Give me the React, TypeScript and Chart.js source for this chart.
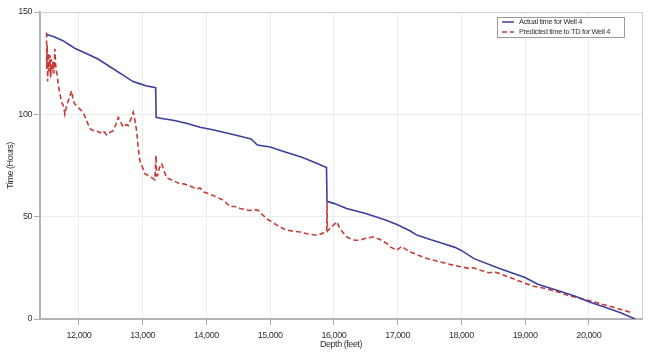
import React, { useEffect, useRef } from 'react';
import { Chart, registerables } from 'chart.js';

Chart.register(...registerables);

const actualDepth = [11493, 11600, 11750, 11850, 11950, 12100, 12300, 12500, 12700, 12850, 12950, 13050, 13205, 13212, 13300, 13500, 13700, 13900, 14100, 14300, 14500, 14700, 14800, 15000, 15200, 15500, 15700, 15885, 15893, 16000, 16200, 16500, 16800, 17000, 17200, 17300, 17500, 17700, 17900, 18000, 18200, 18600, 19000, 19200, 19500, 19800, 20000, 20300, 20500, 20728];
const actualHours = [139, 138, 136, 134, 132, 130, 127, 123, 119, 116, 115, 114, 113, 98.5, 98, 97, 95.5, 93.7, 92.5, 91, 89.5, 88, 85, 84, 82, 79, 76.5, 74, 57.5, 56.5, 54, 51.5, 48.5, 46, 43, 41, 39, 37, 35, 33.5, 29.5, 24.7, 20.3, 17, 14, 11, 8.4, 5.2, 3, 0];

const predictedDepth = [11493, 11497, 11503, 11510, 11520, 11530, 11545, 11555, 11565, 11580, 11597, 11610, 11623, 11635, 11650, 11690, 11728, 11760, 11780, 11800, 11816, 11850, 11885, 11910, 11937, 11970, 12000, 12068, 12120, 12173, 12230, 12278, 12330, 12380, 12435, 12480, 12538, 12580, 12617, 12660, 12695, 12740, 12774, 12820, 12852, 12880, 12906, 12930, 12958, 13000, 13036, 13100, 13193, 13209, 13220, 13235, 13265, 13298, 13340, 13377, 13450, 13520, 13586, 13650, 13743, 13848, 13900, 13960, 14056, 14162, 14265, 14370, 14450, 14530, 14600, 14684, 14750, 14815, 14880, 14947, 15050, 15150, 15261, 15350, 15469, 15600, 15731, 15800, 15862, 15889, 15893, 15900, 15930, 15967, 16000, 16046, 16100, 16150, 16203, 16254, 16330, 16411, 16500, 16568, 16620, 16725, 16830, 16900, 16987, 17066, 17130, 17196, 17300, 17458, 17600, 17810, 17876, 18000, 18124, 18190, 18300, 18438, 18500, 18595, 18700, 18870, 19000, 19132, 19300, 19446, 19560, 19656, 19850, 20022, 20200, 20388, 20550, 20677];
const predictedHours = [140, 122, 134, 116, 130, 121, 129, 118, 127, 122, 126, 120, 132, 124, 121, 112, 106, 104, 100, 103, 105, 108, 111.5, 107, 105, 104, 103, 101, 97, 93, 92, 92, 91, 92, 90, 91, 92, 95, 98.5, 96, 93.7, 95, 94.5, 98, 101, 97, 92, 84, 77, 74, 71, 70, 68, 80, 70, 70, 74, 76, 72, 69, 68, 67, 66, 66, 65, 63.6, 64, 62, 61, 59.6, 58, 55, 55, 54, 53.5, 53, 53.5, 53, 51, 49, 47, 45, 43.4, 43, 42.5, 41.5, 40.9, 41.5, 42.5, 43, 57, 43, 44, 45, 46, 47.5, 44, 42, 40.1, 39.3, 38.5, 38.5, 39.5, 39.8, 40, 38.8, 36.9, 35, 33.6, 35.5, 34, 32.8, 31.5, 29.6, 28.5, 26.8, 26.3, 25.5, 24.7, 25, 23.8, 22.6, 23, 22.3, 21, 19, 17.5, 16, 15, 13.8, 12.8, 11.7, 10.2, 8.9, 7.3, 5.7, 4.2, 3.1];

const xTicks = [12000, 13000, 14000, 15000, 16000, 17000, 18000, 19000, 20000];
const yTicks = [0, 50, 100, 150];
const seriesLabels = ['Actual time for Well 4', 'Predicted time to TD for Well 4'];
const xTitle = 'Depth (feet)';
const yTitle = 'Time (Hours)';

const FONT = '"Liberation Sans", Arial, sans-serif';
const BLUE = '#3c3f9e';
const RED = '#c83a36';

const condensePlugin = {
  id: 'condense',
  beforeDraw(chart: any) {
    (chart.ctx as any).letterSpacing = '-0.45px';
  },
};

const framePlugin = {
  id: 'frame',
  beforeDatasetsDraw(chart: any) {
    const { ctx, chartArea: a } = chart;
    ctx.save();
    ctx.strokeStyle = '#cfcfcf';
    ctx.lineWidth = 1;
    ctx.beginPath();
    ctx.moveTo(a.left, a.top + 0.5);
    ctx.lineTo(a.right + 0.5, a.top + 0.5);
    ctx.lineTo(a.right + 0.5, a.bottom);
    ctx.stroke();
    ctx.restore();
  },
};

const legendPlugin = {
  id: 'boxLegend',
  afterDraw(chart: any) {
    const { ctx } = chart;
    const x = 497.5, y = 17.5, w = 127, h = 20;
    ctx.save();
    ctx.fillStyle = '#ffffff';
    ctx.fillRect(x, y, w, h);
    ctx.strokeStyle = '#9a9a9a';
    ctx.lineWidth = 1;
    ctx.strokeRect(x, y, w, h);
    chart.data.datasets.forEach((ds: any, i: number) => {
      const ly = 22 + i * 10;
      ctx.strokeStyle = ds.borderColor;
      ctx.lineWidth = 1.5;
      ctx.setLineDash(ds.borderDash || []);
      ctx.beginPath();
      ctx.moveTo(502, ly);
      ctx.lineTo(514, ly);
      ctx.stroke();
      ctx.setLineDash([]);
      ctx.fillStyle = '#333';
      ctx.font = '7.5px ' + FONT;
      (ctx as any).letterSpacing = '-0.35px';
      ctx.textBaseline = 'middle';
      ctx.textAlign = 'left';
      ctx.fillText(ds.label, 519, ly);
    });
    ctx.restore();
  },
};

export default function App() {
  const ref = useRef<HTMLCanvasElement>(null);
  useEffect(() => {
    if (!ref.current) return;
    const chart = new Chart(ref.current, {
      type: 'line',
      data: {
        datasets: [
          {
            label: seriesLabels[0],
            data: actualDepth.map((d, i) => ({ x: d, y: actualHours[i] })),
            borderColor: BLUE,
            borderWidth: 1.6,
            pointRadius: 0,
            tension: 0,
            fill: false,
          },
          {
            label: seriesLabels[1],
            data: predictedDepth.map((d, i) => ({ x: d, y: predictedHours[i] })),
            borderColor: RED,
            borderWidth: 1.6,
            borderDash: [5, 3],
            pointRadius: 0,
            tension: 0,
            fill: false,
          },
        ],
      },
      options: {
        animation: false,
        responsive: false,
        devicePixelRatio: 1,
        layout: { padding: { left: 0, top: 12, right: 8, bottom: 0 } },
        plugins: { legend: { display: false }, tooltip: { enabled: false } },
        scales: {
          x: {
            type: 'linear',
            min: 11390,
            max: 20835,
            afterFit: (s: any) => { s.height = 37; },
            afterBuildTicks: (s: any) => { s.ticks = xTicks.map((v) => ({ value: v })); },
            grid: { color: '#ececec', tickColor: '#aaaaaa', tickLength: 6, lineWidth: 1 },
            border: { color: '#b4b4b4', width: 2 },
            ticks: {
              color: '#333',
              padding: 5,
              maxRotation: 0,
              font: { family: FONT, size: 9 },
              callback: (v: any) => Number(v).toLocaleString('en-US'),
            },
            title: { display: true, text: xTitle, color: '#333', font: { family: FONT, size: 9 }, padding: { top: 0, bottom: 6 } },
          },
          y: {
            min: 0,
            max: 150,
            afterFit: (s: any) => { s.width = 40; },
            afterBuildTicks: (s: any) => { s.ticks = yTicks.map((v) => ({ value: v })); },
            grid: { color: '#ececec', tickColor: '#aaaaaa', tickLength: 6, lineWidth: 1 },
            border: { color: '#b4b4b4', width: 2 },
            ticks: { color: '#333', padding: 2, font: { family: FONT, size: 9 } },
            title: { display: true, text: yTitle, color: '#333', font: { family: FONT, size: 9 }, padding: { top: 5, bottom: 0 } },
          },
        },
      },
      plugins: [condensePlugin, framePlugin, legendPlugin],
    } as any);
    return () => chart.destroy();
  }, []);
  return (
    <div style={{ position: 'absolute', left: 0, top: 0, width: 650, height: 356, background: '#fff' }}>
      <canvas ref={ref} width={650} height={356} />
    </div>
  );
}
